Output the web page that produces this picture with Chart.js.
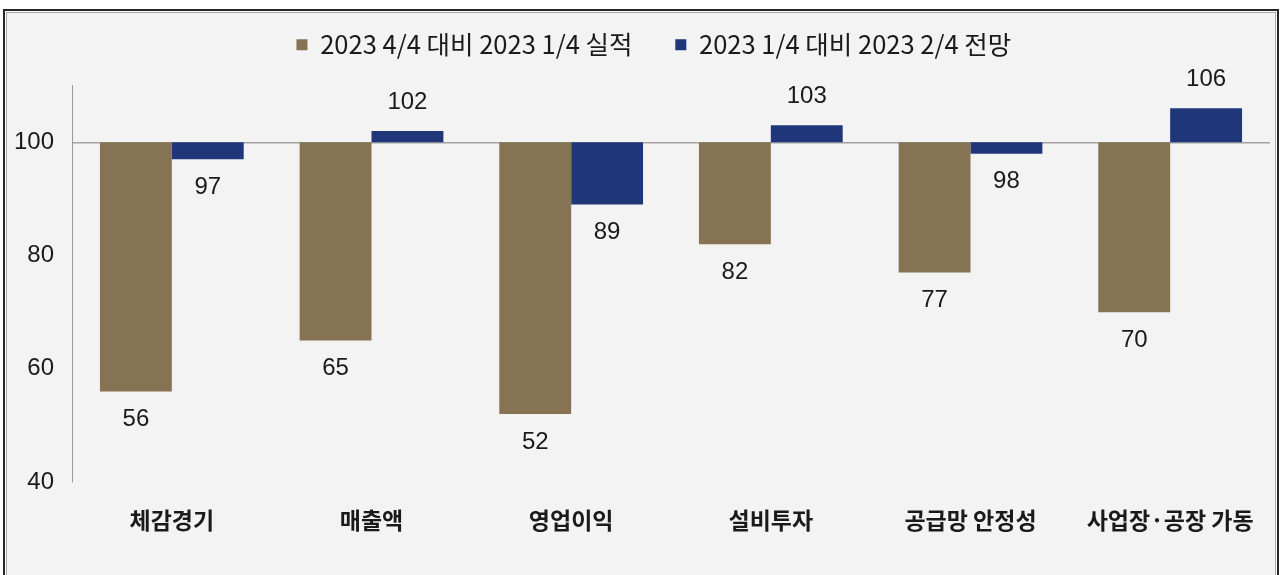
<!DOCTYPE html>
<html>
<head>
<meta charset="utf-8">
<script src="https://cdn.jsdelivr.net/npm/chart.js@4.4.1/dist/chart.umd.min.js"></script>
<style>
  html, body { margin: 0; padding: 0; background: #fff; }
  #frame {
    position: absolute; left: 3px; top: 9px; width: 1272px; height: 580px;
    border: 2px solid #262626; background: #f3f3f3;
    box-shadow: inset 0 0 0 1px #fff, inset 0 0 0 2px #a8a8a8;
  }
  #wrap { position: absolute; left: 0; top: 0; width: 1281px; height: 575px; }
</style>
</head>
<body>
<div id="frame"></div>
<div id="wrap"><canvas id="chart"></canvas></div>
<script>
// ── data ──
const categories = ['체감경기', '매출액', '영업이익', '설비투자', '공급망 안정성', '사업장·공장 가동'];
const seriesNames = ['2023 4/4 대비 2023 1/4 실적', '2023 1/4 대비 2023 2/4 전망'];
const actualQ1   = [56, 65, 52, 82, 77, 70];
const outlookQ2  = [97, 102, 89, 103, 98, 106];
const baseLine   = 100;
const yTicks     = [40, 60, 80, 100];

const BROWN = '#857353';
const NAVY  = '#1f3679';

// bars float from the 100 baseline to the value
const fromBase = arr => arr.map(v => [baseLine, v]);

// value labels at the free end of each bar
const endLabels = {
  id: 'endLabels',
  afterDatasetsDraw(chart) {
    const ctx = chart.ctx;
    const yScale = chart.scales.y;
    ctx.save();
    ctx.font = '24px "Liberation Sans", Arial, sans-serif';
    ctx.fillStyle = '#1a1a1a';
    ctx.textAlign = 'center';
    ctx.textBaseline = 'middle';
    chart.data.datasets.forEach((ds, di) => {
      const meta = chart.getDatasetMeta(di);
      meta.data.forEach((bar, i) => {
        const v = ds.data[i][1];
        const end = yScale.getPixelForValue(v);
        const y = v < baseLine ? end + 28 : end - 29;
        ctx.fillText(String(v), bar.x, y);
      });
    });
    ctx.restore();
  }
};

// widen legend items a little so the spacing matches the original
const legendPad = ['    ', '      '];
const legendLabels = chart => {
  const items = Chart.defaults.plugins.legend.labels.generateLabels(chart);
  items.forEach((it, i) => { it.text = it.text + legendPad[i]; });
  return items;
};

const ctx = document.getElementById('chart').getContext('2d');
new Chart(ctx, {
  type: 'bar',
  data: {
    labels: categories,
    datasets: [
      { label: seriesNames[0], data: fromBase(actualQ1),  backgroundColor: BROWN },
      { label: seriesNames[1], data: fromBase(outlookQ2), backgroundColor: NAVY }
    ]
  },
  options: {
    responsive: true,
    maintainAspectRatio: false,
    animation: false,
    layout: { padding: { top: 12, right: 11, bottom: 0, left: 0 } },
    datasets: { bar: { categoryPercentage: 0.72, barPercentage: 1.0, borderSkipped: false } },
    plugins: {
      tooltip: { enabled: false },
      legend: {
        position: 'top',
        fullSize: false,
        labels: {
          boxWidth: 11, boxHeight: 11, padding: 20,
          color: '#1a1a1a',
          font: { family: '"Noto Sans CJK KR", sans-serif', size: 25.5 },
          generateLabels: legendLabels
        }
      },
      // empty spacer between legend and plot
      title: {
        display: true, text: '', weight: 500,
        font: { size: 1 }, padding: { top: 0, bottom: 17 }
      }
    },
    scales: {
      x: {
        grid: { display: false, drawTicks: false },
        border: { display: false },
        ticks: {
          padding: 24,
          color: '#1a1a1a',
          font: { family: '"Noto Sans CJK KR", sans-serif', size: 23, weight: 'bold' }
        },
        afterFit(scale) { scale.height = 93; }
      },
      y: {
        min: 40, max: 110,
        afterBuildTicks(scale) { scale.ticks = yTicks.map(v => ({ value: v })); },
        afterFit(scale) { scale.width = 72; },
        grid: {
          drawTicks: false,
          color: c => (c.tick && c.tick.value === baseLine ? '#a3a3a3' : 'rgba(0,0,0,0)'),
          lineWidth: 1.5
        },
        border: { display: true, color: '#9a9a9a', width: 1 },
        ticks: {
          padding: 18,
          color: '#1a1a1a',
          font: { family: '"Liberation Sans", Arial, sans-serif', size: 24 }
        }
      }
    }
  },
  plugins: [endLabels]
});
</script>
</body>
</html>
